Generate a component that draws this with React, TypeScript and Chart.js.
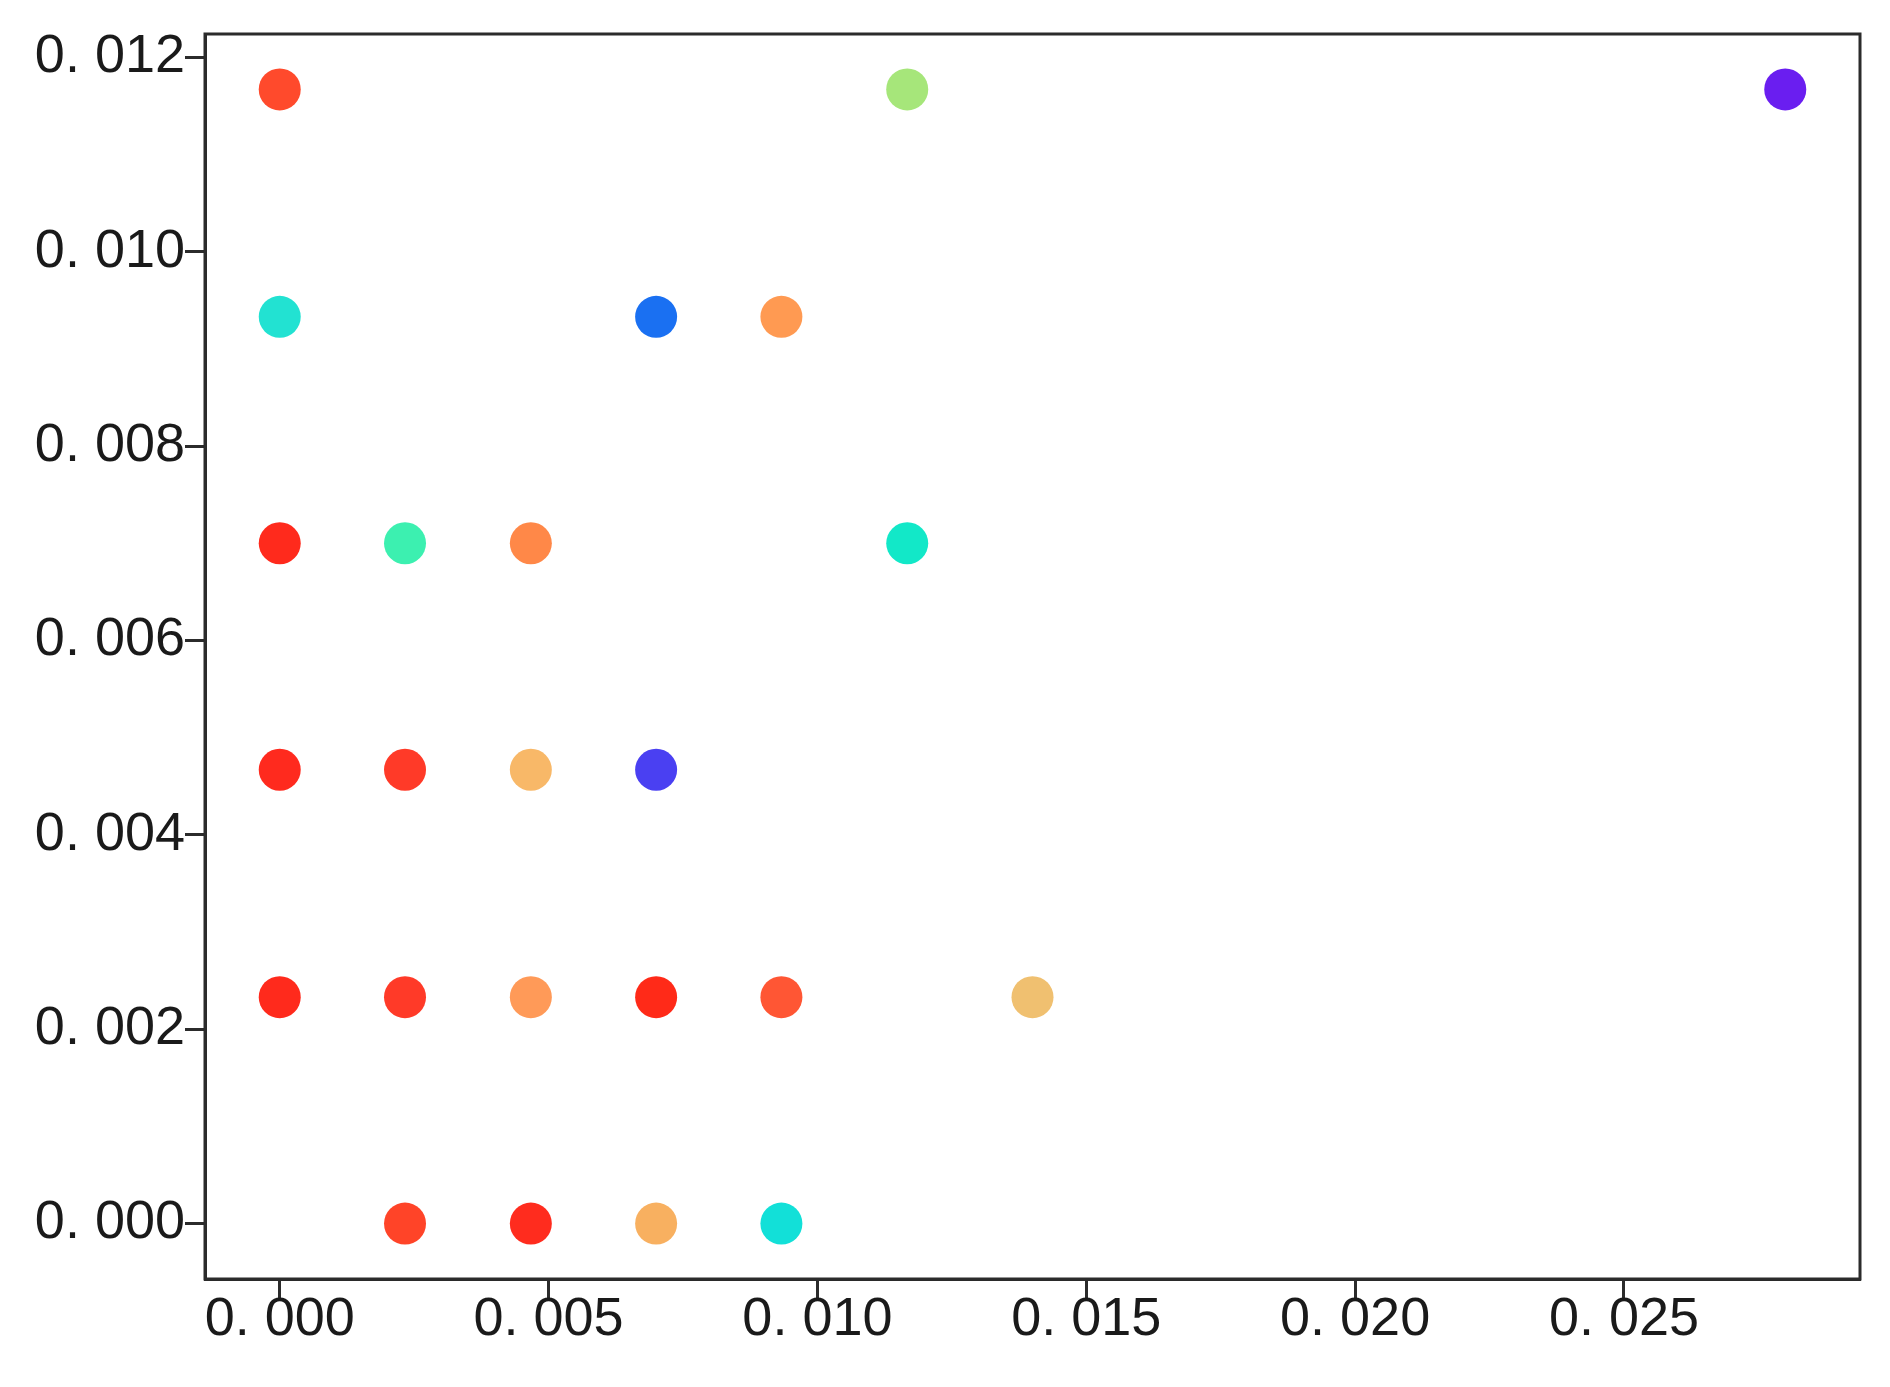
import React, { useEffect, useRef } from "react";
import { Chart, registerables } from "chart.js";

Chart.register(...registerables);

// Data
const xValues = [
  0, 0.01167, 0.028,
  0, 0.007, 0.00933,
  0, 0.00233, 0.00467, 0.01167,
  0, 0.00233, 0.00467, 0.007,
  0, 0.00233, 0.00467, 0.007, 0.00933, 0.014,
  0.00233, 0.00467, 0.007, 0.00933,
];
const yValues = [
  0.01167, 0.01167, 0.01167,
  0.00933, 0.00933, 0.00933,
  0.007, 0.007, 0.007, 0.007,
  0.00467, 0.00467, 0.00467, 0.00467,
  0.00233, 0.00233, 0.00233, 0.00233, 0.00233, 0.00233,
  0, 0, 0, 0,
];
const pointColors = [
  "#ff4a2c", "#a6e67a", "#6a1ef0",
  "#22e2d2", "#1a70f2", "#ff9a52",
  "#ff2a1c", "#3cf0b0", "#ff8848", "#12e8c8",
  "#ff2a1e", "#ff3a28", "#f8b868", "#4a40f2",
  "#ff2a1c", "#ff3a28", "#ff9a58", "#ff2a18", "#ff5634", "#f0c070",
  "#ff4428", "#ff2c1e", "#f8b060", "#12e0d8",
];
const xTicks = [0, 0.005, 0.01, 0.015, 0.02, 0.025];
const xTickLabels = ["0. 000", "0. 005", "0. 010", "0. 015", "0. 020", "0. 025"];
const yTicks = [0, 0.002, 0.004, 0.006, 0.008, 0.01, 0.012];
const yTickLabels = ["0. 000", "0. 002", "0. 004", "0. 006", "0. 008", "0. 010", "0. 012"];

const axisColor = "#2b2b2b";

const framePlugin = {
  id: "frame",
  afterDraw(chart: any) {
    const { ctx, chartArea } = chart;
    ctx.save();
    ctx.strokeStyle = axisColor;
    ctx.lineWidth = 3;
    ctx.strokeRect(chartArea.left, chartArea.top, chartArea.right - chartArea.left, chartArea.bottom - chartArea.top);
    ctx.restore();
  },
};

export default function App() {
  const ref = useRef<HTMLCanvasElement>(null);
  useEffect(() => {
    document.body.style.margin = "0";
    const points = xValues.map((x, i) => ({ x, y: yValues[i] }));
    const chart = new Chart(ref.current!, {
      type: "scatter",
      data: {
        datasets: [
          {
            data: points,
            backgroundColor: pointColors,
            borderWidth: 0,
            pointRadius: 21,
            pointHoverRadius: 21,
          },
        ],
      },
      options: {
        animation: false,
        responsive: false,
        maintainAspectRatio: false,
        layout: { padding: { top: 34, right: 30, left: 0, bottom: 0 } },
        plugins: { legend: { display: false }, tooltip: { enabled: false } },
        scales: {
          x: {
            type: "linear",
            min: -0.00139,
            max: 0.02939,
            afterBuildTicks: (scale: any) => {
              scale.ticks = xTicks.map((v) => ({ value: v }));
            },
            afterFit: (scale: any) => {
              scale.height = 108;
            },
            border: { display: true, color: axisColor, width: 3 },
            grid: {
              display: true,
              drawOnChartArea: false,
              drawTicks: true,
              tickLength: 20,
              tickColor: axisColor,
              tickWidth: 3,
            },
            ticks: {
              autoSkip: false,
              maxRotation: 0,
              padding: -11,
              color: "#1a1a1a",
              font: { family: "Liberation Sans, Arial, sans-serif", size: 54 },
              callback: (v: any) => {
                const i = xTicks.findIndex((t) => Math.abs(t - v) < 1e-9);
                return i >= 0 ? xTickLabels[i] : "";
              },
            },
          },
          y: {
            type: "linear",
            min: -0.00057,
            max: 0.01224,
            afterBuildTicks: (scale: any) => {
              scale.ticks = yTicks.map((v) => ({ value: v }));
            },
            afterFit: (scale: any) => {
              scale.width = 205;
            },
            border: { display: true, color: axisColor, width: 3 },
            grid: {
              display: true,
              drawOnChartArea: false,
              drawTicks: true,
              tickLength: 20,
              tickColor: axisColor,
              tickWidth: 3,
            },
            ticks: {
              autoSkip: false,
              padding: 0,
              color: "#1a1a1a",
              font: { family: "Liberation Sans, Arial, sans-serif", size: 54 },
              callback: (v: any) => {
                const i = yTicks.findIndex((t) => Math.abs(t - v) < 1e-9);
                return i >= 0 ? yTickLabels[i] : "";
              },
            },
          },
        },
      },
      plugins: [framePlugin],
    });
    return () => chart.destroy();
  }, []);
  return (
    <div style={{ position: "absolute", left: 0, top: 0, width: 1890, height: 1387, background: "#fff" }}>
      <canvas ref={ref} width={1890} height={1387} style={{ width: 1890, height: 1387 }} />
    </div>
  );
}
